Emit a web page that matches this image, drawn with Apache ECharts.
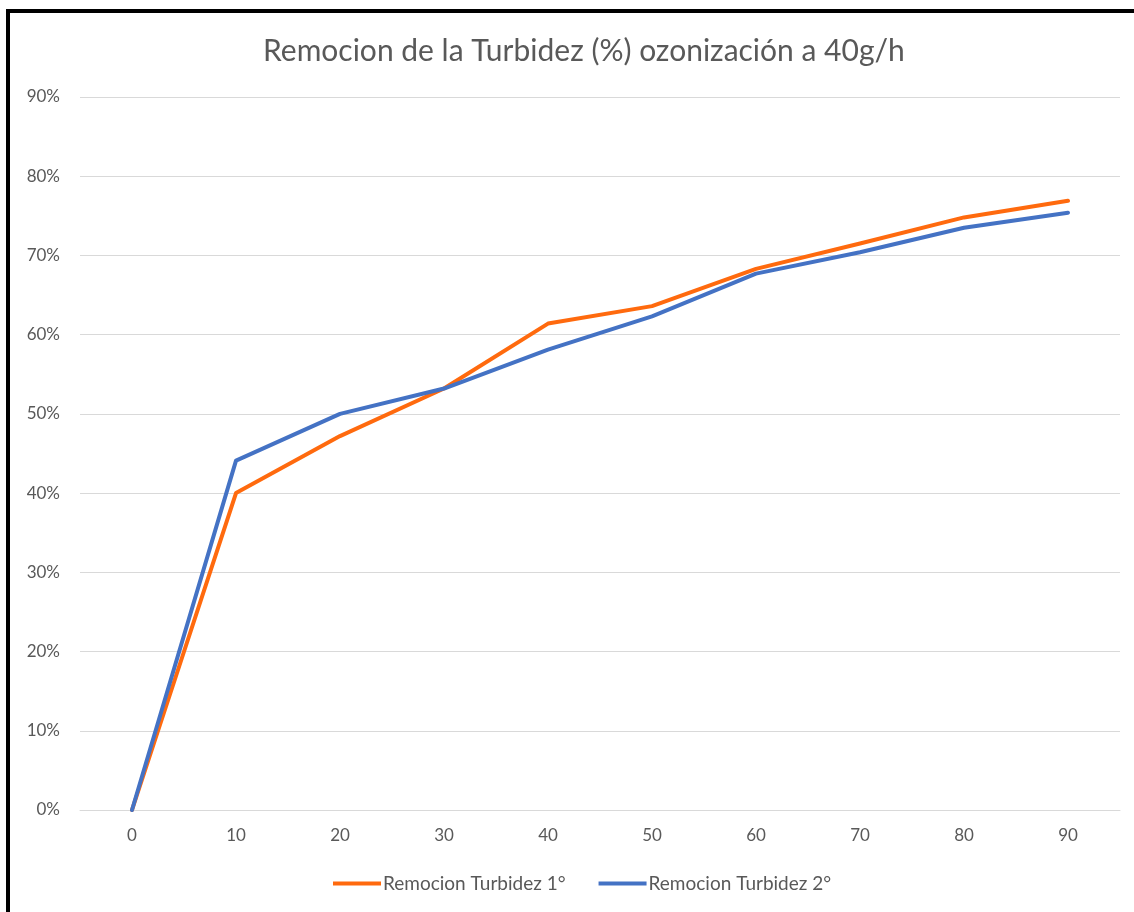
<!DOCTYPE html>
<html>
<head>
<meta charset="utf-8">
<script src="https://cdn.jsdelivr.net/npm/echarts@6/dist/echarts.min.js"></script>
<style>
  html, body { margin: 0; padding: 0; background: #fff; }
  #frame { position: absolute; left: 6px; top: 9px; width: 1128px; height: 903px;
           border-top: 4px solid #000; border-left: 4px solid #000; box-sizing: border-box; }
  #chart { position: absolute; left: 0; top: 0; width: 1134px; height: 912px; }
</style>
</head>
<body>
<div id="frame"></div>
<div id="chart"></div>
<script>
const titleText = 'Remocion de la Turbidez (%) ozonización a 40g/h';
const categories = ['0', '10', '20', '30', '40', '50', '60', '70', '80', '90'];
const seriesNames = ['Remocion Turbidez 1°', 'Remocion Turbidez 2°'];
const turbidez1 = [0, 40.0, 47.2, 53.2, 61.4, 63.6, 68.3, 71.5, 74.8, 76.9];
const turbidez2 = [0, 44.1, 50.0, 53.2, 58.1, 62.3, 67.7, 70.4, 73.5, 75.4];
const yTicks = { min: 0, max: 90, interval: 10 };

const font = 'Lato, "Open Sans", sans-serif';
const chart = echarts.init(document.getElementById('chart'), null, { renderer: 'canvas' });
chart.setOption({
  backgroundColor: 'transparent',
  animation: false,
  title: {
    text: titleText,
    left: 258,
    top: 31,
    textStyle: { fontFamily: font, fontSize: 30, fontWeight: 'normal', color: '#595959' }
  },
  legend: {
    top: 869,
    left: 328,
    icon: 'rect',
    itemWidth: 48,
    itemHeight: 4,
    itemGap: 33,
    textStyle: { fontFamily: font, fontSize: 19, color: '#595959', padding: [0, 0, 0, -3] },
    data: seriesNames
  },
  grid: { left: 80, right: 14, top: 97, bottom: 102, containLabel: false },
  xAxis: {
    type: 'category',
    data: categories,
    boundaryGap: true,
    axisLine: { show: true, lineStyle: { color: '#d9d9d9', width: 1 } },
    axisTick: { show: false },
    axisLabel: { fontFamily: font, fontSize: 17, color: '#595959', margin: 17 },
    splitLine: { show: false }
  },
  yAxis: {
    type: 'value',
    min: yTicks.min,
    max: yTicks.max,
    interval: yTicks.interval,
    axisLine: { show: false },
    axisTick: { show: false },
    axisLabel: { fontFamily: font, fontSize: 17, color: '#595959', margin: 20, formatter: '{value}%' },
    splitLine: { lineStyle: { color: '#d9d9d9', width: 1 } }
  },
  series: [
    {
      name: seriesNames[0], type: 'line', data: turbidez1, symbol: 'none',
      itemStyle: { color: '#FF6A0E' },
      lineStyle: { color: '#FF6A0E', width: 4, cap: 'round', join: 'round' }
    },
    {
      name: seriesNames[1], type: 'line', data: turbidez2, symbol: 'none',
      itemStyle: { color: '#4472C4' },
      lineStyle: { color: '#4472C4', width: 4, cap: 'round', join: 'round' }
    }
  ]
});
</script>
</body>
</html>
